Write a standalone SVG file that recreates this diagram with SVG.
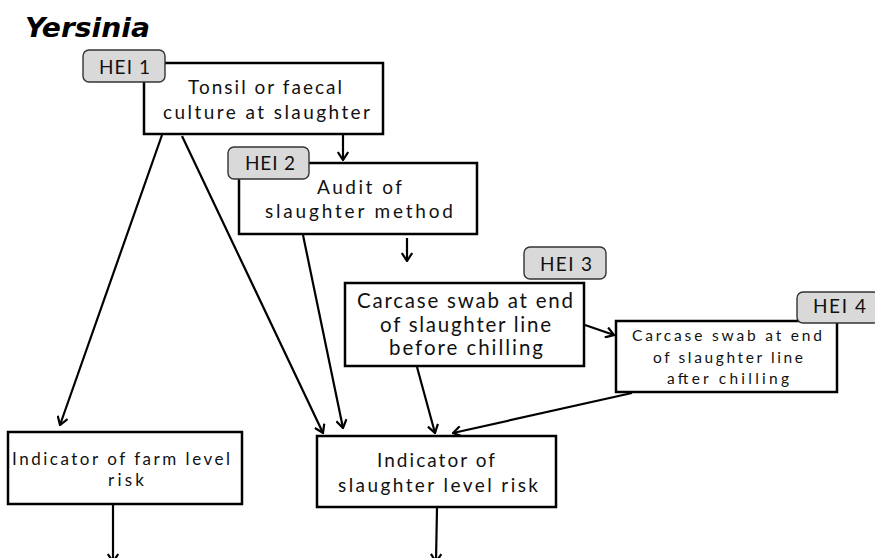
<svg xmlns="http://www.w3.org/2000/svg" width="875" height="558" viewBox="0 0 875 558">
  <style>
    .box { fill: #ffffff; stroke: #000000; stroke-width: 2.5; }
    .tag { fill: #d9d9d9; stroke: #333333; stroke-width: 1.4; }
    .lbl { font-family: Lato, "Open Sans", "Liberation Sans", sans-serif; fill: #111111; }
    .conn line { stroke: #000000; stroke-width: 2.2; marker-end: url(#arrow); }
    .title { font-family: "DejaVu Sans", Verdana, sans-serif; font-weight: bold; font-style: italic; font-size: 27px; fill: #000000; }
  </style>
  <defs>
    <marker id="arrow" viewBox="0 0 10 12" refX="9" refY="6" markerWidth="10" markerHeight="12" markerUnits="userSpaceOnUse" orient="auto">
      <path d="M1,0.8 L9,6 L1,11.2" fill="none" stroke="#000000" stroke-width="2.2"/>
    </marker>
  </defs>
  <rect width="875" height="558" fill="#ffffff"/>

  <text class="title" x="25" y="37" textLength="125" lengthAdjust="spacingAndGlyphs">Yersinia</text>

  <!-- connectors -->
  <g id="connectors" class="conn">
    <line x1="343" y1="135" x2="343" y2="160"/>
    <line x1="407" y1="238" x2="407" y2="261"/>
    <line x1="585" y1="325" x2="614" y2="335"/>
    <line x1="162" y1="135" x2="60" y2="425"/>
    <line x1="182" y1="136" x2="323" y2="433"/>
    <line x1="303" y1="235" x2="343" y2="428"/>
    <line x1="417" y1="367" x2="435" y2="433"/>
    <line x1="632" y1="393" x2="453" y2="433"/>
    <line x1="113" y1="505" x2="113" y2="562"/>
    <line x1="437" y1="508" x2="436" y2="562"/>
  </g>

  <!-- HEI 1: tonsil / faecal culture -->
  <g id="tonsil-culture">
    <rect class="box" x="144" y="63" width="239" height="71"/>
    <rect class="tag" x="83" y="50" width="82" height="32" rx="6"/>
    <text class="lbl" x="99" y="74" font-size="19" textLength="51" lengthAdjust="spacing">HEI 1</text>
    <text class="lbl" x="188" y="94" font-size="19" textLength="154" lengthAdjust="spacing">Tonsil or faecal</text>
    <text class="lbl" x="163" y="119" font-size="19" textLength="207" lengthAdjust="spacing">culture at slaughter</text>
  </g>

  <!-- HEI 2: audit -->
  <g id="audit">
    <rect class="box" x="239" y="163" width="238" height="71"/>
    <rect class="tag" x="228" y="147" width="81" height="32" rx="6"/>
    <text class="lbl" x="245" y="170" font-size="19" textLength="50" lengthAdjust="spacing">HEI 2</text>
    <text class="lbl" x="317" y="194" font-size="19" textLength="85" lengthAdjust="spacing">Audit of</text>
    <text class="lbl" x="265" y="218" font-size="19" textLength="188" lengthAdjust="spacing">slaughter method</text>
  </g>

  <!-- HEI 3: swab before chilling -->
  <g id="swab-before">
    <rect class="box" x="345" y="283" width="239" height="83"/>
    <rect class="tag" x="524" y="247" width="82" height="32" rx="6"/>
    <text class="lbl" x="540" y="271" font-size="19" textLength="52" lengthAdjust="spacing">HEI 3</text>
    <text class="lbl" x="357" y="308" font-size="20.5" textLength="216" lengthAdjust="spacing">Carcase swab at end</text>
    <text class="lbl" x="380" y="332" font-size="20.5" textLength="171" lengthAdjust="spacing">of slaughter line</text>
    <text class="lbl" x="389" y="355" font-size="20.5" textLength="154" lengthAdjust="spacing">before chilling</text>
  </g>

  <!-- HEI 4: swab after chilling -->
  <g id="swab-after">
    <rect class="box" x="616" y="321" width="221" height="71"/>
    <rect class="tag" x="797" y="292" width="82" height="31" rx="6"/>
    <text class="lbl" x="813" y="313" font-size="19" textLength="53" lengthAdjust="spacing">HEI 4</text>
    <text class="lbl" x="632" y="341" font-size="15.5" textLength="190" lengthAdjust="spacing">Carcase swab at end</text>
    <text class="lbl" x="653" y="363" font-size="15.5" textLength="150" lengthAdjust="spacing">of slaughter line</text>
    <text class="lbl" x="667" y="384" font-size="15.5" textLength="122" lengthAdjust="spacing">after chilling</text>
  </g>

  <!-- farm level indicator -->
  <g id="farm-risk">
    <rect class="box" x="8" y="432" width="234" height="72"/>
    <text class="lbl" x="12" y="465" font-size="17" textLength="218" lengthAdjust="spacing">Indicator of farm level</text>
    <text class="lbl" x="108" y="486" font-size="17" textLength="36" lengthAdjust="spacing">risk</text>
  </g>

  <!-- slaughter level indicator -->
  <g id="slaughter-risk">
    <rect class="box" x="317" y="436" width="239" height="71"/>
    <text class="lbl" x="377" y="467" font-size="19" textLength="118" lengthAdjust="spacing">Indicator of</text>
    <text class="lbl" x="338" y="492" font-size="19" textLength="200" lengthAdjust="spacing">slaughter level risk</text>
  </g>
</svg>
